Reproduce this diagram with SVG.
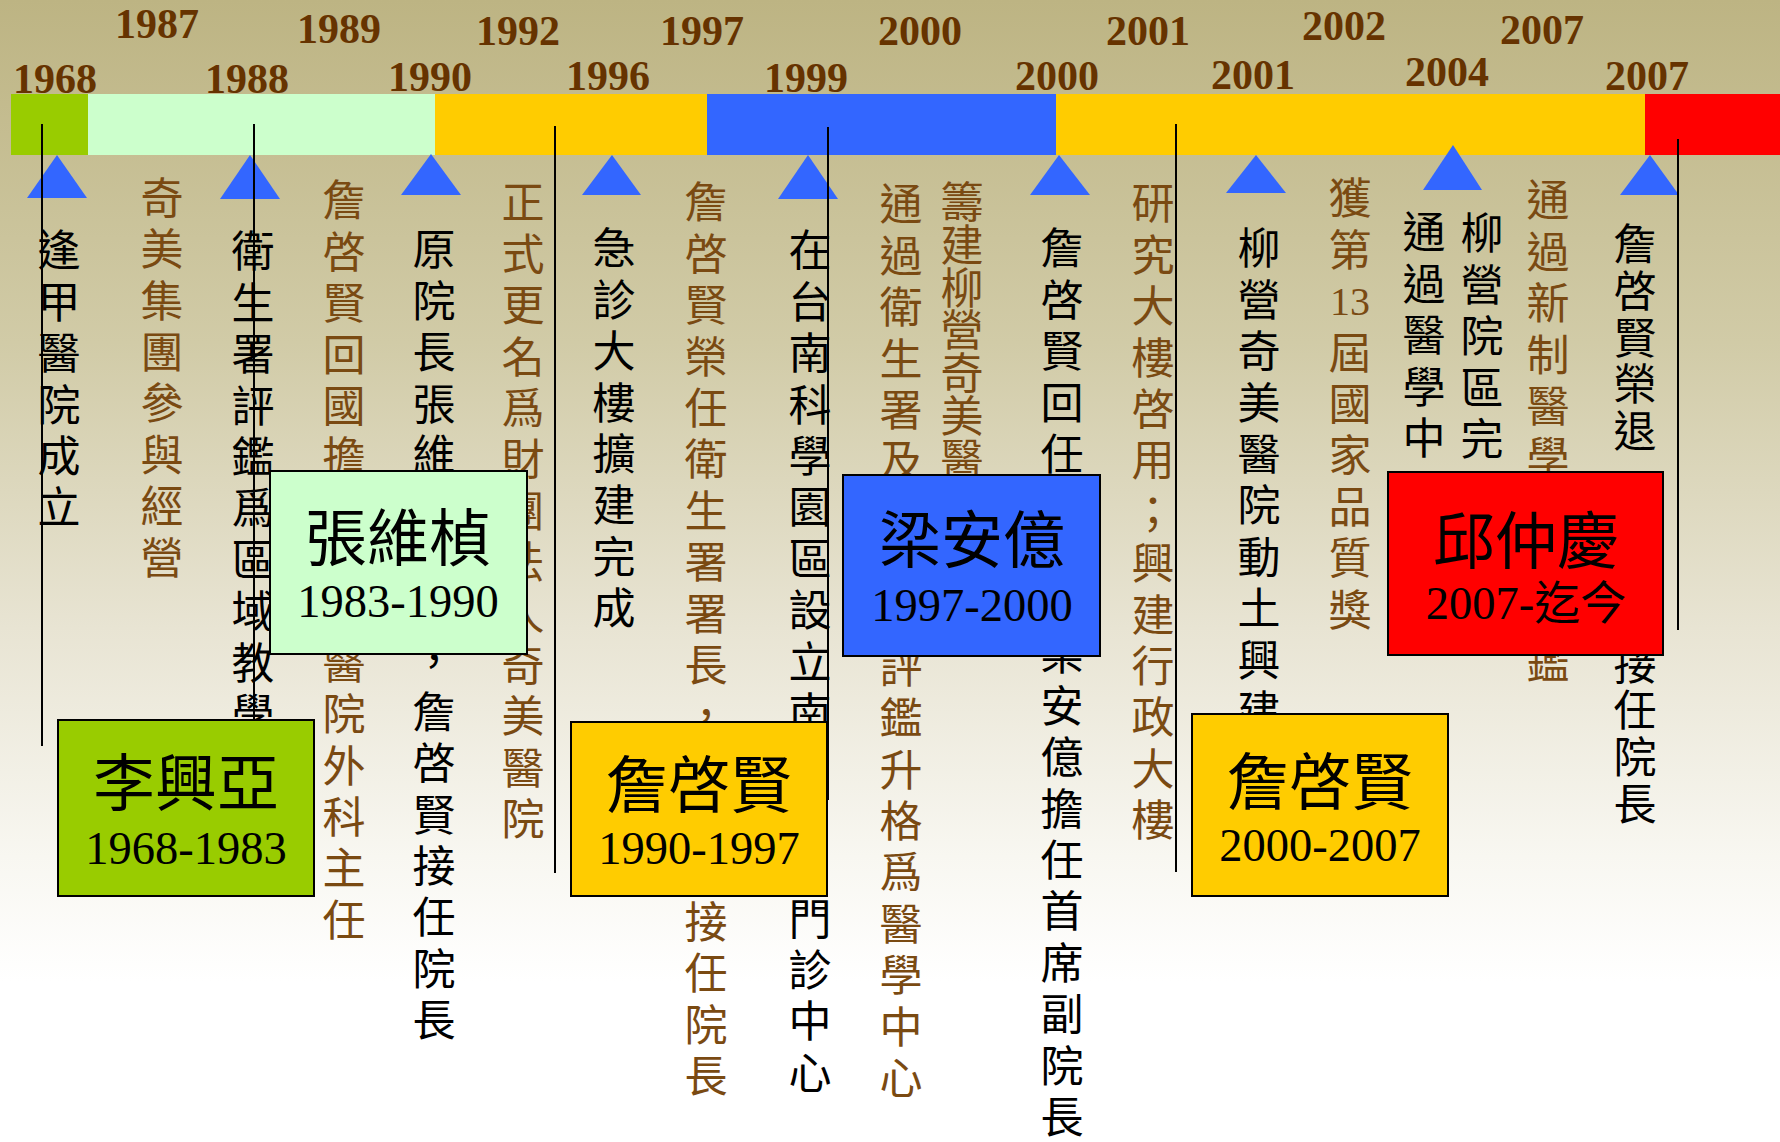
<svg xmlns="http://www.w3.org/2000/svg" width="1780" height="1142" viewBox="0 0 1780 1142">
<defs>
<linearGradient id="bg" x1="0" y1="0" x2="0" y2="1">
<stop offset="0" stop-color="#BDB483"/>
<stop offset="0.3" stop-color="#D1CBA7"/>
<stop offset="0.55" stop-color="#E8E4D3"/>
<stop offset="0.75" stop-color="#F8F7F1"/>
<stop offset="0.86" stop-color="#FFFFFF"/>
<stop offset="1" stop-color="#FFFFFF"/>
</linearGradient>
<style>
.yr{font-family:"Liberation Serif",serif;font-weight:bold;font-size:42px;fill:#663300}
.vv{font-family:"Noto Sans CJK TC","Noto Sans CJK SC",sans-serif;font-size:43px;writing-mode:vertical-rl;letter-spacing:8.4px}
.vt{font-family:"Noto Sans CJK TC","Noto Sans CJK SC",sans-serif;font-size:43px;text-anchor:middle}
.tight{letter-spacing:-0.3px}
.mid{letter-spacing:3.6px}
.last{letter-spacing:0}
.blk{fill:#000000}
.brn{fill:#7A4A12}
.num{font-family:"Liberation Serif",serif;font-size:40px;text-anchor:middle}
.tri{fill:#3366FF}
.ln{stroke:#000000;stroke-width:2;fill:none}
.box{stroke:#000000;stroke-width:2}
.nm{font-family:"Noto Sans CJK TC","Noto Sans CJK SC",sans-serif;font-size:62px;text-anchor:middle;fill:#000000}
.yrs{font-family:"Liberation Serif",serif;font-size:46.5px;text-anchor:middle;fill:#000000}
.cjk{font-family:"Noto Sans CJK TC","Noto Sans CJK SC",sans-serif;font-size:46px}
</style>
</defs>
<rect x="0" y="0" width="1780" height="1142" fill="url(#bg)"/>

<g id="timeline-bar">
<rect x="11" y="94" width="77" height="61" fill="#99CC00"/>
<rect x="88" y="94" width="347" height="61" fill="#CCFFCC"/>
<rect x="435" y="94" width="272" height="61" fill="#FFCC00"/>
<rect x="707" y="94" width="349" height="61" fill="#3366FF"/>
<rect x="1056" y="94" width="589" height="61" fill="#FFCC00"/>
<rect x="1645" y="94" width="135" height="61" fill="#FF0000"/>
</g>

<g id="years">
<text class="yr" x="115" y="38">1987</text>
<text class="yr" x="297" y="43">1989</text>
<text class="yr" x="476" y="45">1992</text>
<text class="yr" x="660" y="45">1997</text>
<text class="yr" x="878" y="45">2000</text>
<text class="yr" x="1106" y="45">2001</text>
<text class="yr" x="1302" y="40">2002</text>
<text class="yr" x="1500" y="44">2007</text>
<text class="yr" x="13" y="93">1968</text>
<text class="yr" x="205" y="93">1988</text>
<text class="yr" x="388" y="91">1990</text>
<text class="yr" x="566" y="90">1996</text>
<text class="yr" x="764" y="92">1999</text>
<text class="yr" x="1015" y="90">2000</text>
<text class="yr" x="1211" y="89">2001</text>
<text class="yr" x="1405" y="86">2004</text>
<text class="yr" x="1605" y="90">2007</text>
</g>

<g id="markers">
<polygon class="tri" points="57,155 27,198 87,198"/>
<polygon class="tri" points="250,155 220,199 280,199"/>
<polygon class="tri" points="431,154 401,195 461,195"/>
<polygon class="tri" points="612,155 582,195 641,195"/>
<polygon class="tri" points="808,155 778,199 838,199"/>
<polygon class="tri" points="1059,155 1030,195 1090,195"/>
<polygon class="tri" points="1256,155 1226,193 1286,193"/>
<polygon class="tri" points="1453,145 1423,190 1482,190"/>
<polygon class="tri" points="1650,155 1620,195 1679,195"/>
</g>

<g id="events">
<g id="ev-1968"><text class="vv blk" x="59" y="228.5">逢甲醫院成立</text></g>
<g id="ev-1987"><text class="vv brn" x="162" y="176">奇美集團參與經營</text></g>
<g id="ev-1988"><text class="vv blk" x="253" y="229.5">衛生署評鑑爲區域教學</text></g>
<g id="ev-1989"><text class="vv brn" x="344" y="178.5">詹啓賢回國擔</text><text class="vv brn" x="344" y="641">醫院外科主任</text></g>
<g id="ev-1990"><text class="vv blk" x="434" y="227.5">原院長張維</text><text class="vt blk" x="434" y="677">，</text><text class="vv blk" x="434" y="690">詹啓賢接任院長</text></g>
<g id="ev-1992"><text class="vv brn" x="523" y="180.5">正式更名爲財團法人奇美醫院</text></g>
<g id="ev-1996"><text class="vv blk" x="614" y="226.5">急診大樓擴建完成</text></g>
<g id="ev-1997"><text class="vv brn" x="706" y="180.5">詹啓賢榮任衛生署署長</text><text class="vt brn" x="706" y="732">，</text><text class="vv brn" x="706" y="900">接任院長</text></g>
<g id="ev-1999"><text class="vv blk" x="810" y="228.5">在台南科學園區設立南</text><text class="vv blk" x="810" y="896.7">門診中心</text></g>
<g id="ev-2000a"><text class="vv brn" x="901" y="182.5">通過衛生署及</text><text class="vv brn" x="901" y="645">評鑑升格爲醫學中心</text></g>
<g id="ev-2000b"><text class="vv brn tight" x="962" y="180.5">籌建柳營奇美醫</text></g>
<g id="ev-2000c"><text class="vv blk" x="1062" y="226.5">詹啓賢回任</text><text class="vv blk" x="1062" y="632.5">梁安億擔任首席副院<tspan class="last">長</tspan></text></g>
<g id="ev-2001a"><text class="vv brn" x="1153" y="181.5">研究大樓啓用</text><text class="vt brn" x="1153" y="528">；</text><text class="vv brn" x="1153" y="541.3">興建行政大樓</text></g>
<g id="ev-2001b"><text class="vv blk" x="1259" y="226.5">柳營奇美醫院動土興建</text></g>
<g id="ev-2002"><text class="vv brn" x="1350" y="176.5">獲第</text><text class="num brn" x="1350" y="315">13</text><text class="vv brn" x="1350" y="330.7">屆國家品質獎</text></g>
<g id="ev-2004a"><text class="vv blk" x="1424" y="210.5">通過醫學中</text></g>
<g id="ev-2004b"><text class="vv blk" x="1482" y="211.5">柳營院區完</text></g>
<g id="ev-2007a"><text class="vv brn" x="1548" y="178.5">通過新制醫學</text><text class="vv brn" x="1548" y="641">鑑</text></g>
<g id="ev-2007b"><text class="vv blk mid" x="1635" y="222.5">詹啓賢榮退</text><text class="vv blk mid" x="1635" y="642">接任院長</text></g>
</g>

<g id="connectors">
<line class="ln" x1="42" y1="124" x2="42" y2="746"/>
<line class="ln" x1="254" y1="124" x2="254" y2="724"/>
<line class="ln" x1="555" y1="126" x2="555" y2="873"/>
<line class="ln" x1="828" y1="127" x2="828" y2="800"/>
<line class="ln" x1="1176" y1="124" x2="1176" y2="872"/>
<line class="ln" x1="1678" y1="139" x2="1678" y2="630"/>
</g>

<g id="president-li">
<rect class="box" x="58" y="720" width="256" height="176" fill="#99CC00"/>
<text class="nm" x="186" y="806">李興亞</text>
<text class="yrs" x="186" y="864">1968-1983</text>
</g>
<g id="president-chang">
<rect class="box" x="270" y="471" width="257" height="183" fill="#CCFFCC"/>
<text class="nm" x="398" y="561">張維楨</text>
<text class="yrs" x="398" y="617">1983-1990</text>
</g>
<g id="president-chan1">
<rect class="box" x="571" y="722" width="256" height="174" fill="#FFCC00"/>
<text class="nm" x="699" y="808">詹啓賢</text>
<text class="yrs" x="699" y="864">1990-1997</text>
</g>
<g id="president-liang">
<rect class="box" x="843" y="475" width="257" height="181" fill="#3366FF"/>
<text class="nm" x="972" y="563">梁安億</text>
<text class="yrs" x="972" y="621">1997-2000</text>
</g>
<g id="president-chan2">
<rect class="box" x="1192" y="714" width="256" height="182" fill="#FFCC00"/>
<text class="nm" x="1320" y="805">詹啓賢</text>
<text class="yrs" x="1320" y="861">2000-2007</text>
</g>
<g id="president-chiu">
<rect class="box" x="1388" y="472" width="275" height="183" fill="#FF0000"/>
<text class="nm" x="1526" y="564">邱仲慶</text>
<text class="yrs" x="1526" y="619">2007-<tspan class="cjk">迄今</tspan></text>
</g>
</svg>
